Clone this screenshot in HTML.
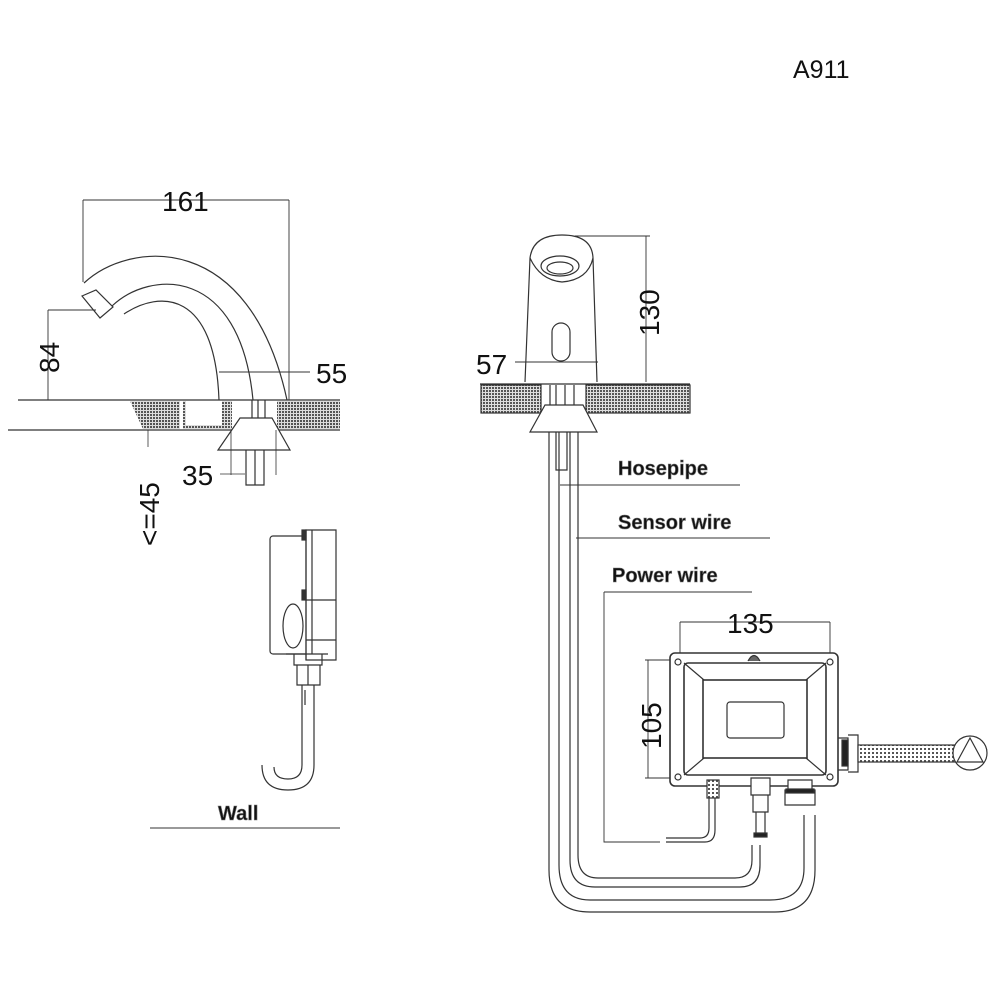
<!DOCTYPE html>
<html><head><meta charset="utf-8"><style>html,body{margin:0;padding:0;background:#fff}svg{display:block}text{font-family:"Liberation Sans",sans-serif;fill:#111}</style></head>
<body>
<svg width="990" height="990" viewBox="0 0 990 990" xmlns="http://www.w3.org/2000/svg">
<defs>
<pattern id="h" width="3" height="3" patternUnits="userSpaceOnUse"><rect width="3" height="3" fill="#ddd"/><rect width="2" height="2" fill="#555"/></pattern>
<pattern id="br" width="4" height="4" patternUnits="userSpaceOnUse"><rect width="4" height="4" fill="#fff"/><rect width="2" height="2" fill="#555"/></pattern>
</defs>
<g fill="none" stroke="#333" stroke-width="1.2">
<text x="793" y="78" font-size="25" stroke="none">A911</text>

<!-- LEFT FAUCET -->
<path d="M83,200H289M83,200V282M289,200V400" stroke-width="0.9"/>
<text x="162" y="211" font-size="28" stroke="none">161</text>
<path d="M84,283 C130,240 250,230 287,400"/>
<path d="M112,306 C150,270 240,265 253,400"/>
<path d="M124,314 C160,290 215,290 219,400"/>
<path d="M82,296 L96,290 L113,307 L100,318 Z"/>
<path d="M48,310H96M48,310V400" stroke-width="0.9"/>
<text transform="translate(59,373) rotate(-90)" font-size="28" stroke="none">84</text>
<path d="M219,372H310" stroke-width="0.9"/>
<text x="316" y="383" font-size="28" stroke="none">55</text>
<path d="M18,400H340M8,430H340"/>
<path d="M130,401H180V429H143Z" fill="url(#h)" stroke="none"/>
<path d="M183,401H232V429H183Z" fill="url(#h)" stroke="none"/>
<rect x="186" y="401" width="36" height="24" fill="#fff" stroke="none"/>
<path d="M277,401H340V429H277Z" fill="url(#h)" stroke="none"/>
<path d="M252,400V418M258,400V418M265,400V418"/>
<path d="M240,418H272L290,450H218Z" fill="#fff"/>
<path d="M246,450V485H264V450M255,450V485"/>
<path d="M231,430V475M276,430V475" stroke-width="0.8"/>
<path d="M220,474H245" stroke-width="0.8"/>
<text x="182" y="485" font-size="28" stroke="none">35</text>
<path d="M148,430V447" stroke-width="0.8"/>
<text transform="translate(159,546) rotate(-90)" font-size="28" stroke="none">&lt;=45</text>

<!-- wall box -->
<rect x="270" y="536" width="42" height="118" rx="3" fill="#fff"/>
<path d="M306,530H336V660H306Z" fill="#fff"/>
<path d="M306,530V660M312,530V654M306,600H336M306,640H336"/>
<rect x="302" y="530" width="4" height="10" fill="#333"/>
<rect x="302" y="590" width="4" height="10" fill="#333"/>
<ellipse cx="293" cy="626" rx="10" ry="22" fill="#fff"/>
<path d="M286,654H328M294,654V665H322V654M297,665V685H320V665M308,665V685"/>
<path d="M302,685V765M314,685V765M305,690V705"/>
<path d="M314,765 Q314,790 288,790 Q262,790 262,765M302,765 Q302,779 288,779 Q274,779 274,767"/>
<text x="218" y="820" font-size="20" font-weight="bold" stroke="#777" stroke-width="0.6" fill="#aaa">Wall</text>
<path d="M150,828H340" stroke-width="0.9"/>

<!-- RIGHT FAUCET -->
<path d="M525,382 L530,258 Q533,235 562,235 Q592,235 593,258 L597,382"/>
<path d="M530,258 Q540,280 562,282 Q588,280 593,258"/>
<ellipse cx="560" cy="266" rx="19" ry="10"/>
<ellipse cx="560" cy="268" rx="13" ry="6"/>
<rect x="552" y="323" width="18" height="38" rx="9"/>
<path d="M575,236H650M646,236V382" stroke-width="0.9"/>
<text transform="translate(659,336) rotate(-90)" font-size="28" stroke="none">130</text>
<path d="M515,362H598" stroke-width="0.9"/>
<text x="476" y="374" font-size="28" stroke="none">57</text>
<path d="M480,384H690"/>
<rect x="481" y="385" width="60" height="28" fill="url(#h)"/>
<rect x="586" y="385" width="104" height="28" fill="url(#h)"/>
<path d="M550,385V405M556,385V405M565,385V405M574,385V405"/>
<path d="M545,405H583L597,432H530Z" fill="#fff"/>
<path d="M549,432V870 Q549,912 590,912H775 Q815,912 815,870V815"/>
<path d="M559,432V865 Q559,900 590,900H770 Q804,900 804,868V815"/>
<path d="M570,432V860 Q570,887 595,887H740 Q760,887 760,865V845"/>
<path d="M578,432V855 Q578,878 598,878H735 Q752,878 752,860V845"/>
<path d="M556,432V470H567V432"/>
<path d="M560,485H740M576,538H770M604,592H752M604,592V842H660" stroke-width="0.9"/>
<path d="M666,842H705 Q715,842 715,830V790M666,838H700 Q709,838 709,828V790"/>
<g stroke="#777" stroke-width="0.6" fill="#aaa" font-weight="bold" font-size="20">
<text x="618" y="475">Hosepipe</text>
<text x="618" y="529">Sensor wire</text>
<text x="612" y="582">Power wire</text>
</g>

<!-- control box -->
<path d="M680,622H830M680,622V653M830,622V653" stroke-width="0.9"/>
<text x="727" y="633" font-size="28" stroke="none">135</text>
<path d="M645,660H672M645,778H672M648,660V778" stroke-width="0.9"/>
<text transform="translate(661,749) rotate(-90)" font-size="28" stroke="none">105</text>
<rect x="670" y="653" width="168" height="133" rx="5" fill="#fff" stroke-width="1.6"/>
<rect x="684" y="663" width="142" height="112" rx="4" stroke-width="1.6"/>
<path d="M684,663L704,680M826,663L806,680M684,775L704,758M826,775L806,758"/>
<rect x="703" y="680" width="104" height="78" stroke-width="1.6"/>
<rect x="727" y="702" width="57" height="36" rx="3"/>
<circle cx="678" cy="662" r="3"/><circle cx="830" cy="662" r="3"/><circle cx="678" cy="777" r="3"/><circle cx="830" cy="777" r="3"/>
<path d="M748,661 Q754,650 760,661" fill="#666"/>
<path d="M838,738H848V770H838M848,735H858V772H848"/>
<rect x="842" y="740" width="6" height="26" fill="#222"/>
<rect x="858" y="745" width="97" height="17" fill="url(#br)"/>
<circle cx="970" cy="753" r="17" fill="#fff"/>
<path d="M970,738L957,762H983Z"/>
<rect x="707" y="780" width="12" height="18" fill="url(#br)"/>
<path d="M751,778H770V795H751ZM753,795H768V812H753ZM756,812H765V835H756Z" fill="#fff"/>
<rect x="754" y="833" width="13" height="4" fill="#222"/>
<path d="M788,780H812V790H788ZM785,790H815V805H785Z" fill="#fff"/>
<rect x="786" y="789" width="28" height="4" fill="#222"/>
</g>
</svg>
</body></html>
